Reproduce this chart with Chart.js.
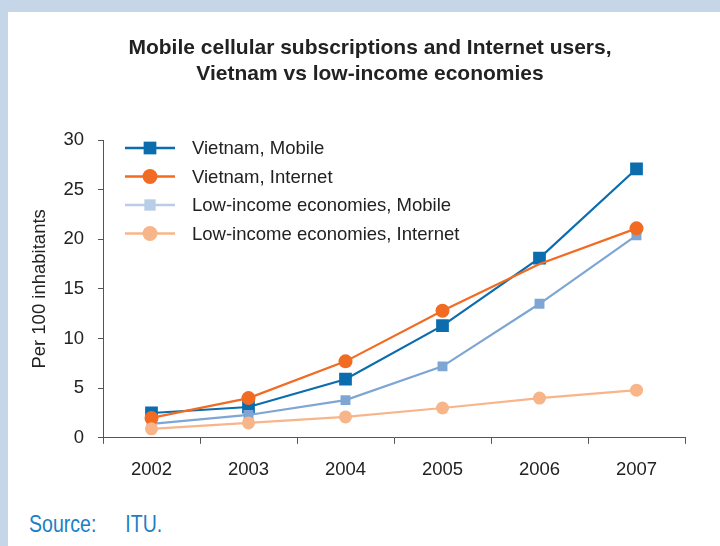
<!DOCTYPE html>
<html>
<head>
<meta charset="utf-8">
<script src="https://cdn.jsdelivr.net/npm/chart.js@4"></script>
<style>
body { margin:0; width:720px; height:546px; background:#c6d6e9; position:relative; overflow:hidden; font-family:"Liberation Sans", Arial, sans-serif; }
#panel { position:absolute; left:8px; top:12px; right:0; bottom:0; background:#fff; }
#wrap { position:absolute; left:0; top:0; width:712px; height:490px; }
#source { position:absolute; left:21px; top:499px; font-family:"Liberation Sans", Arial, sans-serif; font-size:23px; color:#1b7fc4; transform:scaleX(0.85); transform-origin:left center; white-space:nowrap; }
#source span { margin-left:34px; }
</style>
</head>
<body>
<div id="panel">
<div id="wrap"><canvas id="lineChart" width="712" height="490"></canvas></div>
<div id="source">Source:<span>ITU.</span></div>
</div>
<script>

// DATA

const years = ["2002","2003","2004","2005","2006","2007"];

const vietnamMobile   = [2.5, 3.1, 5.9, 11.3, 18.1, 27.1];
const vietnamInternet = [2.0, 4.0, 7.7, 12.8, 17.5, 21.1];
const lowMobile       = [1.4, 2.3, 3.8, 7.2, 13.5, 20.4];
const lowInternet     = [0.9, 1.5, 2.1, 3.0, 4.0, 4.8];

const seriesNames = [
"Vietnam, Mobile",
"Vietnam, Internet",
"Low-income economies, Mobile",
"Low-income economies, Internet"
];

const titleLines = [
"Mobile cellular subscriptions and Internet users,",
"Vietnam vs low-income economies"
];

const yTitle = "Per 100 inhabitants";

const FONT = '"Liberation Sans", Arial, sans-serif';


// TITLE (centred over the whole panel)

const titleBlock = {
id:"titleBlock",
afterDraw(chart){
const ctx = chart.ctx;
ctx.save();
ctx.font = 'bold 21px ' + FONT;
ctx.fillStyle = "#222";
ctx.textAlign = "center";
ctx.textBaseline = "middle";
titleLines.forEach((t,i)=>ctx.fillText(t, 362, 36 + i*26));
ctx.restore();
}
};


// LEGEND inside the plot, top left

const insideLegend = {
id:"insideLegend",
afterDraw(chart){
const {ctx, chartArea} = chart;
ctx.save();
chart.data.datasets.forEach((ds,i)=>{
const y = chartArea.top + 8 + i*28.5;
const x0 = chartArea.left + 22, x1 = chartArea.left + 72;
const c = ds.legendColor || ds.borderColor;
ctx.strokeStyle = c;
ctx.lineWidth = 2.5;
ctx.beginPath(); ctx.moveTo(x0,y); ctx.lineTo(x1,y); ctx.stroke();
ctx.fillStyle = c;
Chart.helpers.drawPoint(ctx,{pointStyle:ds.pointStyle, radius:ds.legendRadius, borderWidth:0, rotation:0},(x0+x1)/2,y);
ctx.fillStyle = "#222";
ctx.font = '18.5px ' + FONT;
ctx.textAlign = "left";
ctx.textBaseline = "middle";
ctx.fillText(ds.label, chartArea.left + 89, y + 1);
});
ctx.restore();
}
};


// LINE CHART

new Chart(

document.getElementById("lineChart"),

{

type:"line",

data:{

labels:years,

datasets:[{
label:seriesNames[0],
data:vietnamMobile,
borderColor:"#0b6cae",
backgroundColor:"#0b6cae",
pointBackgroundColor:"#0b6cae",
pointStyle:"rect",
pointRadius:9,
legendRadius:9,
order:4
},{
label:seriesNames[1],
data:vietnamInternet,
borderColor:"#f26b22",
backgroundColor:"#f26b22",
pointBackgroundColor:"#f26b22",
pointStyle:"circle",
pointRadius:[7,7,7,7,0,7],
legendRadius:7.5,
order:2
},{
label:seriesNames[2],
data:lowMobile,
borderColor:"#7ea6d4",
backgroundColor:"#7ea6d4",
pointBackgroundColor:"#7ea6d4",
legendColor:"#b8cde7",
pointStyle:"rect",
pointRadius:7,
legendRadius:8,
order:3
},{
label:seriesNames[3],
data:lowInternet,
borderColor:"#f8b58a",
backgroundColor:"#f8b58a",
pointBackgroundColor:"#f8b58a",
pointStyle:"circle",
pointRadius:6.5,
legendRadius:7.5,
order:1
}]

},

options:{
responsive:false,
animation:false,
elements:{
line:{borderWidth:2.2, tension:0},
point:{borderWidth:0, hoverRadius:7}
},
layout:{padding:{top:128, left:0, right:35, bottom:6}},
plugins:{
legend:{display:false},
title:{display:false},
tooltip:{enabled:false}
},
scales:{
x:{
offset:true,
grid:{display:true, drawOnChartArea:false, drawTicks:true, tickLength:6, color:"#555", offset:true},
border:{color:"#555", width:1},
ticks:{font:{family:FONT, size:18.5}, color:"#222", padding:15}
},
y:{
min:0,
max:30,
afterFit(scale){ scale.width = 95; },
grid:{display:true, drawOnChartArea:false, drawTicks:true, tickLength:5, color:"#555"},
border:{color:"#555", width:1},
ticks:{stepSize:5, font:{family:FONT, size:18.5}, color:"#222", padding:14},
title:{display:true, text:yTitle, font:{family:FONT, size:18.5}, color:"#222", padding:{top:21, bottom:0}}
}
}
},

plugins:[titleBlock, insideLegend]

});

</script>
</body>
</html>
